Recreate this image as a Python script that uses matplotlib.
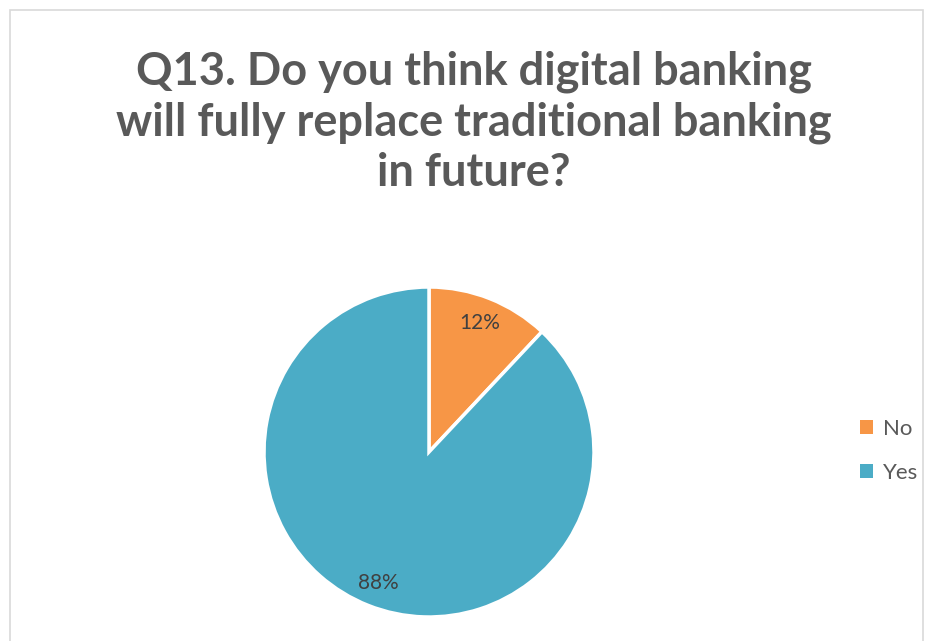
import matplotlib.pyplot as plt
from matplotlib.patches import Rectangle

labels = ['No', 'Yes']
values = [12, 88]
colors = ['#F79646', '#4BACC6']

plt.rcParams['font.family'] = ['Lato', 'DejaVu Sans']

fig = plt.figure(figsize=(9.27, 6.41), dpi=100)
W, H = 927, 641

# chart frame
fig.patches.append(Rectangle((10 / W, -0.01), (923 - 10) / W, (H - 10) / H + 0.01,
                             transform=fig.transFigure, fill=False,
                             edgecolor='#D9D9D9', linewidth=1.2))

fig.text(474 / W, 1 - 122 / H,
         'Q13. Do you think digital banking\nwill fully replace traditional banking\nin future?',
         ha='center', va='center', fontsize=32.5, fontweight='bold',
         color='#595959', linespacing=1.24)

cx, cy, r = 429, 452, 165
ax = fig.add_axes([(cx - r) / W, 1 - (cy + r) / H, 2 * r / W, 2 * r / H])
wedges, _ = ax.pie(values, colors=colors, startangle=90, counterclock=False,
                   radius=1, wedgeprops=dict(edgecolor='white', linewidth=2.5))
ax.set_xlim(-1, 1)
ax.set_ylim(-1, 1)
ax.set_aspect('equal')
ax.axis('off')

# data labels
ax.text((480 - cx) / r, (cy - 323) / r, f'{values[0]}%', ha='center', va='center',
        fontsize=15, color='#404040')
ax.text((378 - cx) / r, (cy - 583) / r, f'{values[1]}%', ha='center', va='center',
        fontsize=15, color='#404040')

leg = fig.legend(wedges, labels, loc='center left',
                 bbox_to_anchor=(860 / W, 1 - 451 / H), frameon=False,
                 borderpad=0, borderaxespad=0,
                 fontsize=16, handlelength=0.6, handleheight=0.6,
                 handletextpad=0.45, labelspacing=1.1, labelcolor='#595959')
for h in leg.legend_handles:
    h.set_edgecolor('none')

fig.savefig('out.png', dpi=100)
